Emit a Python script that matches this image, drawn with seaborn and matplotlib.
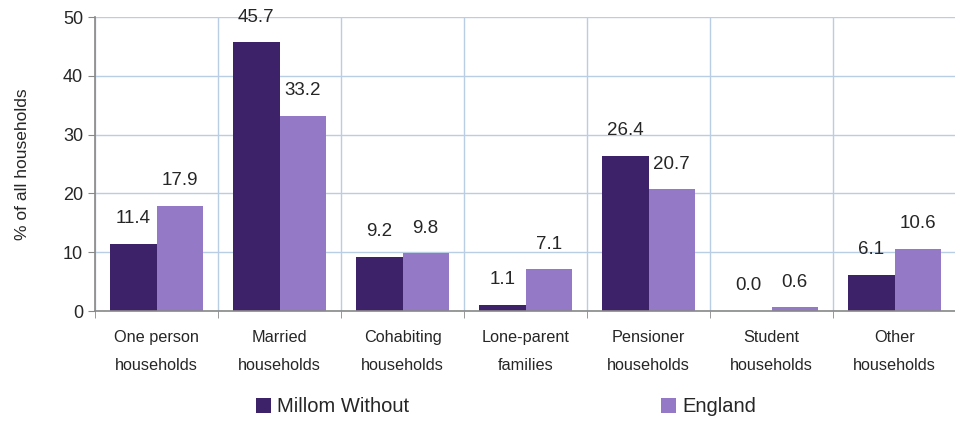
import pandas as pd
import matplotlib.pyplot as plt
import seaborn as sns
import numpy as np

# data
categories = ['One person\nhouseholds', 'Married\nhouseholds', 'Cohabiting\nhouseholds',
              'Lone-parent\nfamilies', 'Pensioner\nhouseholds', 'Student\nhouseholds',
              'Other\nhouseholds']
millom = [11.4, 45.7, 9.2, 1.1, 26.4, 0.0, 6.1]
england = [17.9, 33.2, 9.8, 7.1, 20.7, 0.6, 10.6]
series_names = ['Millom Without', 'England']
colores = ['#3D2269', '#9379C6']

df = pd.DataFrame({
    'Tipo': categories * 2,
    'Valor': millom + england,
    'Serie': [series_names[0]] * len(categories) + [series_names[1]] * len(categories),
})

sns.set_style('white')
plt.rcParams['font.family'] = ['Liberation Sans', 'DejaVu Sans']

fig = plt.figure(figsize=(9.55, 4.22), dpi=100)
ax = fig.add_axes([95 / 955, 1 - 311 / 422, 861 / 955, 294 / 422])

sns.barplot(data=df, x='Tipo', y='Valor', hue='Serie', palette=colores,
            width=0.75, saturation=1, linewidth=0, ax=ax, legend=True)

for cont in ax.containers:
    ax.bar_label(cont, fmt='%.1f', padding=12, fontsize=13.5, clip_on=False)

ax.set_ylim(0, 50)
ax.set_xlim(-0.5, len(categories) - 0.5)
ax.set_yticks(np.arange(0, 51, 10))
ax.set_xlabel('')
ax.set_ylabel('% of all households', fontsize=12.5)
ax.yaxis.set_label_coords(-0.076, 0.5)

# gridlines: horizontal and at category boundaries
ax.set_xticks(np.arange(-0.5, len(categories), 1), minor=True)
ax.grid(True, axis='y', color='#B9CDE5', linewidth=1)
ax.grid(True, axis='x', which='minor', color='#B9CDE5', linewidth=1)
ax.set_axisbelow(True)

ax.tick_params(axis='x', which='major', length=0, labelsize=11.7, pad=14)
ax.tick_params(axis='x', which='minor', length=5, color='#888888', direction='out', bottom=True)
ax.tick_params(axis='y', length=5, color='#888888', direction='out', left=True, labelsize=13)
for lbl in ax.get_xticklabels():
    lbl.set_linespacing(2.05)

for s in ['top', 'right']:
    ax.spines[s].set_visible(False)
for s in ['left', 'bottom']:
    ax.spines[s].set_color('#888888')
    ax.spines[s].set_linewidth(1.2)

handles, labels = ax.get_legend_handles_labels()
ax.get_legend().remove()
fig.legend(handles, labels, loc='center', bbox_to_anchor=(0.53, 1 - 407 / 422), ncol=2,
           frameon=False, fontsize=14.5, handlelength=0.75, handleheight=0.75,
           handletextpad=0.3, columnspacing=12.5)

fig.savefig('out.png', dpi=100)
